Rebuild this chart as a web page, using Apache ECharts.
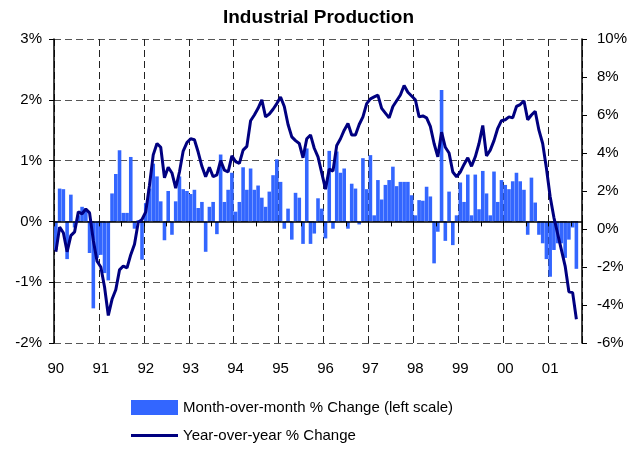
<!DOCTYPE html>
<html><head><meta charset="utf-8">
<script src="https://cdn.jsdelivr.net/npm/echarts@6/dist/echarts.min.js"></script>
<style>html,body{margin:0;padding:0;background:#fff}#c{width:637px;height:451px}</style>
</head><body><div id="c"></div>
<script>
// Year tick labels (January of each year)
const yearLabels = ['90','91','92','93','94','95','96','97','98','99','00','01'];
const monthsShown = 141; // Jan 1990 .. Sep 2001 slots

// Month-over-month % change (left scale), Jan 1990 .. Aug 2001
const momChange = [
  -0.47, 0.54, 0.53, -0.62, 0.44, -0.1, 0.1, 0.24, 0.2, -0.52,
  -1.43, -0.6, -0.55, -0.85, -0.97, 0.46, 0.78, 1.17, 0.14, 0.14,
  1.06, -0.12, 0.02, -0.63, 0.3, 0.54, 0.95, 0.74, 0.33, -0.31,
  0.5, -0.22, 0.33, 0.74, 0.53, 0.5, 0.45, 0.52, 0.22, 0.32,
  -0.5, 0.24, 0.32, -0.21, 1.1, 0.32, 0.52, 0.8, 0.16, 0.32,
  0.89, 0.52, 0.87, 0.52, 0.59, 0.39, 0.24, 0.49, 0.76, 1.02,
  0.65, -0.12, 0.21, -0.3, 0.47, 0.39, -0.37, 1.2, -0.37, -0.2,
  0.38, 0.21, -0.28, 1.16, -0.12, 1.15, 0.8, 0.87, -0.12, 0.62,
  0.54, -0.05, 1.04, 0.53, 1.09, 0.1, 0.68, 0.36, 0.6, 0.68,
  0.9, 0.58, 0.65, 0.65, 0.65, 0.43, 0.1, 0.35, 0.34, 0.57,
  0.41, -0.69, -0.17, 2.16, -0.32, 0.49, -0.39, 0.1, 0.64, 0.32,
  0.77, 0.1, 0.77, 0.2, 0.83, 0.46, 0.1, 0.82, 0.32, 0.68,
  0.6, 0.53, 0.66, 0.8, 0.66, 0.52, -0.22, 0.72, 0.31, -0.22,
  -0.36, -0.62, -0.91, -0.47, -0.36, -0.36, -0.6, -0.3, -0.1, -0.78,
  null
];

// Year-over-year % change (right scale)
const yoyChange = [
  -1.2, 0.1, -0.2, -1.2, -0.35, -0.15, 0.9, 0.8, 1.05, 0.85,
  -0.6, -1.7, -2.0, -3.05, -4.55, -3.7, -3.2, -2.15, -1.95, -2.05,
  -1.35, -0.8, 0.35, 0.5, 0.9, 2.3, 3.9, 4.5, 4.3, 2.7,
  3.25, 2.95, 2.15, 3.0, 4.1, 4.55, 4.75, 4.7, 4.05, 3.3,
  2.75, 3.25, 2.75, 2.85, 3.6, 3.1, 3.0, 3.85, 3.55, 3.45,
  4.15, 4.35, 5.7, 6.0, 6.35, 6.8, 5.9, 6.05, 6.3, 6.6,
  6.95, 6.45, 5.5, 4.85, 4.65, 4.5, 3.75, 4.75, 4.95, 4.25,
  3.8, 2.95, 2.1, 3.15, 3.05, 4.4, 4.75, 5.2, 5.55, 4.95,
  4.95, 5.5, 5.9, 6.6, 6.85, 6.95, 7.05, 6.35, 6.1, 5.85,
  6.45, 6.75, 7.05, 7.55, 7.2, 7.0, 6.8, 5.9, 5.95, 5.85,
  5.4, 4.5, 3.8, 5.1, 4.3, 4.0, 3.0, 2.75, 3.0, 3.4,
  3.75, 3.3, 3.8, 4.5, 5.45, 3.85, 4.15, 4.65, 5.3, 5.7,
  5.75, 5.9, 5.85, 6.45, 6.55, 6.75, 5.75, 6.0, 6.2, 5.2,
  4.5, 3.2, 1.7, 0.6, -0.25, -1.1, -1.95, -3.3, -3.35, -4.75,
  null
];

const seriesNames = ['Month-over-month % Change (left scale)', 'Year-over-year % Change'];

const categories = [];
yearLabels.forEach(function (y) {
  for (let m = 1; m <= 12; m++) categories.push(y + '-' + m);
});
categories.length = monthsShown;

const FONT = "'Liberation Sans', Arial, sans-serif";
const chart = echarts.init(document.getElementById('c'), null, {renderer: 'canvas'});
chart.setOption({
  animation: false,
  backgroundColor: '#fff',
  title: {
    text: 'Industrial Production', left: 'center', top: 3,
    textStyle: {fontFamily: FONT, fontSize: 19, fontWeight: 'bold', color: '#000'}
  },
  legend: {
    orient: 'vertical', left: 131, top: 400, padding: 0,
    itemWidth: 47, itemHeight: 15, itemGap: 13, itemTextGap: 4,
    symbolKeepAspect: true,
    textStyle: {fontFamily: FONT, fontSize: 15, color: '#000'},
    data: [
      {name: seriesNames[0], icon: 'rect'},
      {name: seriesNames[1], icon: 'path://M0,0H160V10H0Z'}
    ]
  },
  grid: {left: 54, right: 55, top: 39, bottom: 108, containLabel: false},
  xAxis: [
    {
      type: 'category', data: categories, boundaryGap: true, position: 'bottom',
      axisLine: {show: false, onZero: false},
      axisTick: {show: false},
      axisLabel: {
        interval: function (i) { return i % 12 === 0; },
        formatter: function (v, i) { return yearLabels[Math.floor(i / 12)]; },
        fontFamily: FONT, fontSize: 15, color: '#000', margin: 18
      },
      splitLine: {
        show: true, interval: function (i) { return i % 12 === 0; },
        lineStyle: {color: '#222', type: [7, 4], width: 1}
      }
    },
    {
      type: 'category', data: categories, boundaryGap: true, position: 'bottom', z: 5,
      axisLine: {show: true, onZero: true, onZeroAxisIndex: 0, lineStyle: {color: '#000', width: 1.5}},
      axisTick: {show: true, interval: function (i) { return i % 6 === 0; }, length: 5, lineStyle: {color: '#000'}},
      axisLabel: {show: false},
      splitLine: {show: false}
    }
  ],
  yAxis: [
    {
      type: 'value', min: -2, max: 3, interval: 1, position: 'left',
      axisLine: {show: true, lineStyle: {color: '#000', width: 1.5}},
      axisTick: {show: true, length: 5, lineStyle: {color: '#000'}},
      axisLabel: {formatter: '{value}%', fontFamily: FONT, fontSize: 15, color: '#000', margin: 12},
      splitLine: {show: true, lineStyle: {color: '#555', type: [7, 4], width: 1}}
    },
    {
      type: 'value', min: -6, max: 10, interval: 2, position: 'right',
      axisLine: {show: true, lineStyle: {color: '#000', width: 1.5}},
      axisTick: {show: true, length: 5, lineStyle: {color: '#000'}},
      axisLabel: {formatter: '{value}%', fontFamily: FONT, fontSize: 15, color: '#000', margin: 15},
      splitLine: {show: false}
    }
  ],
  series: [
    {
      name: seriesNames[0], type: 'bar', xAxisIndex: 0, yAxisIndex: 0,
      data: momChange, barCategoryGap: '4%',
      itemStyle: {color: '#3366ff'}
    },
    {
      name: seriesNames[1], type: 'line', xAxisIndex: 0, yAxisIndex: 1,
      data: yoyChange, symbol: 'none', z: 10,
      lineStyle: {color: '#000080', width: 3}, itemStyle: {color: '#000080'}
    }
  ]
});
</script></body></html>
